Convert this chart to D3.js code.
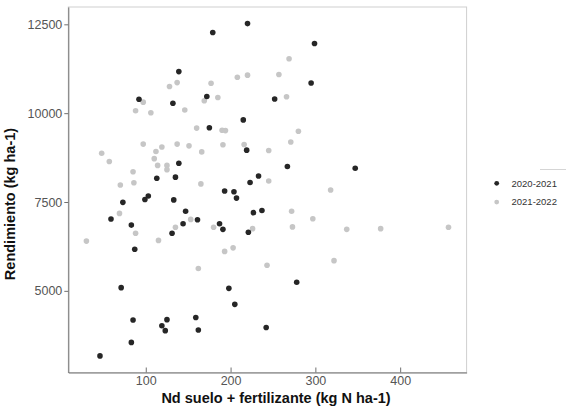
<!doctype html>
<html>
<head>
<meta charset="utf-8">
<script src="https://d3js.org/d3.v7.min.js"></script>
<style>
  body { margin: 0; background: #fff; }
  text { font-family: "Liberation Sans", Arial, sans-serif; }
</style>
</head>
<body>
<script>
// series 2020-2021: N supply (kg N ha-1) and yield (kg ha-1)
var n2021 = [179, 220, 299, 139, 295, 172, 92, 132, 252, 215, 175, 219, 139, 267, 347,
  113, 135, 233, 223, 193, 204, 207, 103, 99, 133, 73, 147, 237, 227, 59, 161, 83, 144,
  187, 191, 131, 221, 87, 71, 278, 198, 205, 159, 125, 85, 119, 123, 162, 242, 83, 46];
var y2021 = [12270, 12520, 11960, 11170, 10850, 10470, 10390, 10280, 10400, 9810, 9590,
  8960, 8590, 8500, 8450, 8170, 8200, 8230, 8050, 7810, 7790, 7610, 7670, 7570, 7560,
  7490, 7240, 7260, 7200, 7020, 7000, 6850, 6890, 6890, 6730, 6620, 6650, 6170, 5090,
  5240, 5070, 4620, 4250, 4190, 4180, 4020, 3880, 3900, 3970, 3550, 3170];

// series 2021-2022
var n2122 = [30, 48, 57, 70, 69, 85, 86, 88, 88, 97, 106, 97, 110, 112, 114, 119, 125,
  125, 115, 128, 137, 137, 146, 151, 135, 153, 160, 166, 165, 162, 169, 177, 185, 180,
  190, 194, 191, 193, 203, 208, 220, 216, 226, 245, 245, 243, 257, 269, 266, 280, 271,
  272, 273, 297, 318, 322, 337, 377, 457];
var y2122 = [6400, 8870, 8640, 7980, 7180, 8350, 8040, 6620, 10070, 10310, 10010, 9130,
  8720, 8920, 8530, 9050, 8530, 8410, 6420, 10750, 10860, 9130, 10090, 9080, 6790, 7010,
  9580, 8910, 8010, 5630, 10350, 10840, 10440, 6790, 9520, 9510, 9110, 6110, 6210, 11010,
  11070, 9120, 6750, 8950, 8090, 5720, 11090, 11530, 10460, 9490, 9190, 7240, 6800, 7030,
  7840, 5850, 6730, 6750, 6790];

var seriesNames = ["2020-2021", "2021-2022"];
var seriesColors = ["#262626", "#c6c6c6"];
var xTicks = [100, 200, 300, 400];
var yTicks = [5000, 7500, 10000, 12500];

var W = 566, H = 415;
var panel = {left: 68.3, right: 466.6, top: 7, bottom: 372.5};

var svg = d3.select("body").append("svg")
    .attr("width", W)
    .attr("height", H);

var allX = n2021.concat(n2122), allY = y2021.concat(y2122);

// ggplot-style 5% expansion
function expand(ext) {
  var r = ext[1] - ext[0];
  return [ext[0] - r * 0.05, ext[1] + r * 0.05];
}

var x = d3.scaleLinear().domain(expand(d3.extent(allX))).range([panel.left, panel.right]);
var y = d3.scaleLinear().domain(expand(d3.extent(allY))).range([panel.bottom, panel.top]);

// light panel frame (top/right)
svg.append("rect")
    .attr("x", panel.left)
    .attr("y", panel.top)
    .attr("width", panel.right - panel.left)
    .attr("height", panel.bottom - panel.top)
    .attr("fill", "none")
    .attr("stroke", "#cfcfcf")
    .attr("stroke-width", 1);

// points, 2021-2022 first, then 2020-2021 on top
var pts2 = n2122.map(function(d, i) { return {x: d, y: y2122[i]}; });
var pts1 = n2021.map(function(d, i) { return {x: d, y: y2021[i]}; });

svg.append("g").selectAll("circle")
    .data(pts2).enter().append("circle")
    .attr("cx", function(d) { return x(d.x); })
    .attr("cy", function(d) { return y(d.y); })
    .attr("r", 2.8)
    .attr("fill", seriesColors[1]);

svg.append("g").selectAll("circle")
    .data(pts1).enter().append("circle")
    .attr("cx", function(d) { return x(d.x); })
    .attr("cy", function(d) { return y(d.y); })
    .attr("r", 2.8)
    .attr("fill", seriesColors[0]);

// x axis, ticks point into the panel
var xAxis = svg.append("g")
    .attr("transform", "translate(0," + panel.bottom + ")")
    .call(d3.axisBottom(x).tickValues(xTicks).tickSizeInner(-5).tickSizeOuter(0).tickPadding(8));

// y axis
var yAxis = svg.append("g")
    .attr("transform", "translate(" + panel.left + ",0)")
    .call(d3.axisLeft(y).tickValues(yTicks).tickSizeInner(4).tickSizeOuter(0).tickPadding(2).tickFormat(d3.format("d")));

[xAxis, yAxis].forEach(function(a) {
  a.select(".domain").attr("stroke", "#707070").attr("stroke-width", 1);
  a.selectAll(".tick line").attr("stroke", "#707070");
  a.selectAll(".tick text")
      .attr("fill", "#555")
      .attr("font-size", "12.5px")
      .attr("font-family", "'Liberation Sans', Arial, sans-serif");
});
xAxis.selectAll(".tick text").attr("dy", "0.71em").attr("y", 4);

// axis titles
svg.append("text")
    .attr("x", 276)
    .attr("y", 403)
    .attr("text-anchor", "middle")
    .attr("font-size", "14.5px")
    .attr("font-weight", "bold")
    .attr("fill", "#111")
    .text("Nd suelo + fertilizante (kg N ha-1)");

svg.append("text")
    .attr("transform", "translate(15,204) rotate(-90)")
    .attr("text-anchor", "middle")
    .attr("font-size", "14.5px")
    .attr("font-weight", "bold")
    .attr("fill", "#111")
    .text("Rendimiento (kg ha-1)");

// legend
svg.append("line")
    .attr("x1", 540).attr("x2", 566)
    .attr("y1", 169.5).attr("y2", 169.5)
    .attr("stroke", "#d5d5d5");

var leg = svg.append("g");
seriesNames.forEach(function(name, i) {
  var ly = 183.3 + i * 18.8;
  leg.append("circle")
      .attr("cx", 496.7)
      .attr("cy", ly)
      .attr("r", 2.4)
      .attr("fill", seriesColors[i]);
  leg.append("text")
      .attr("x", 511.5)
      .attr("y", ly)
      .attr("dy", "0.35em")
      .attr("font-size", "9.5px")
      .attr("fill", "#333")
      .text(name);
});
</script>
</body>
</html>
